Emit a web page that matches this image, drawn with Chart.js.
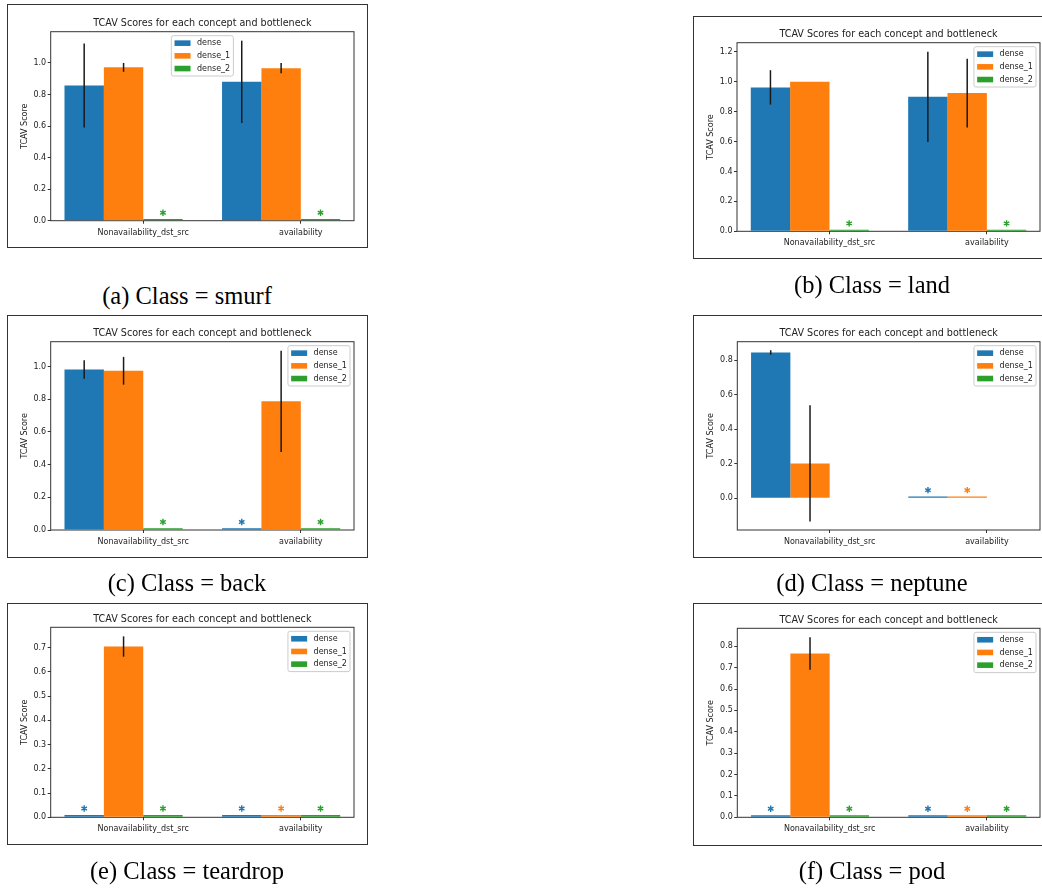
<!DOCTYPE html>
<html>
<head>
<meta charset="utf-8">
<script src="https://cdn.jsdelivr.net/npm/chart.js@4.4.1/dist/chart.umd.min.js"></script>
<style>
  html, body { margin: 0; padding: 0; background: #fff; width: 1042px; height: 888px; overflow: hidden; position: relative; }
  canvas.panel { position: absolute; }
  .frame { position: absolute; box-sizing: border-box; border: 1.3px solid #333; pointer-events: none; }
  .caption { position: absolute; font-family: "Liberation Serif", "Times New Roman", serif; font-size: 24.5px; line-height: 1;
             white-space: nowrap; transform: translate(-50%, -50%); color: #000; }
</style>
</head>
<body>
<script>
// ---- data -------------------------------------------------------------
const concepts = ['Nonavailability_dst_src', 'availability'];
const bottlenecks = ['dense', 'dense_1', 'dense_2'];

// rows: dense, dense_1, dense_2 ; columns: concepts
const smurfScores = [[0.857, 0.880], [0.972, 0.967], [0.01, 0.01]];
const smurfErrors = [[0.266, 0.261], [0.028, 0.032], [0, 0]];
const smurfStars  = [[0, 0], [0, 0], [1, 1]];
const smurfTicks  = [0.0, 0.2, 0.4, 0.6, 0.8, 1.0];

const landScores = [[0.963, 0.900], [1.000, 0.925], [0.01, 0.01]];
const landErrors = [[0.115, 0.302], [0, 0.230], [0, 0]];
const landStars  = [[0, 0], [0, 0], [1, 1]];
const landTicks  = [0.0, 0.2, 0.4, 0.6, 0.8, 1.0, 1.2];

const backScores = [[0.982, 0.01], [0.974, 0.787], [0.01, 0.01]];
const backErrors = [[0.057, 0], [0.085, 0.310], [0, 0]];
const backStars  = [[0, 1], [0, 0], [1, 1]];
const backTicks  = [0.0, 0.2, 0.4, 0.6, 0.8, 1.0];

const neptuneScores = [[0.844, 0.01], [0.202, 0.01], [null, null]];
const neptuneErrors = [[0.013, 0], [0.336, 0], [0, 0]];
const neptuneStars  = [[0, 1], [0, 1], [0, 0]];
const neptuneTicks  = [0.0, 0.2, 0.4, 0.6, 0.8];

const teardropScores = [[0.01, 0.01], [0.705, 0.01], [0.01, 0.01]];
const teardropErrors = [[0, 0], [0.042, 0], [0, 0]];
const teardropStars  = [[1, 1], [0, 1], [1, 1]];
const teardropTicks  = [0.0, 0.1, 0.2, 0.3, 0.4, 0.5, 0.6, 0.7];

const podScores = [[0.01, 0.01], [0.766, 0.01], [0.01, 0.01]];
const podErrors = [[0, 0], [0.076, 0], [0, 0]];
const podStars  = [[1, 1], [0, 1], [1, 1]];
const podTicks  = [0.0, 0.1, 0.2, 0.3, 0.4, 0.5, 0.6, 0.7, 0.8];

// ---- style ------------------------------------------------------------
const barColors = ['#1f77b4', '#ff7f0e', '#2ca02c'];
const BAR_W = 0.25;               // bar width, in units of concept spacing
const FONT = 'DejaVu Sans';
const INK = '#222';
const SPINE = '#333';
const Y_AXIS_W = 40, X_AXIS_H = 25, TITLE_GAP = 8;

const panels = [
  { caption: '(a) Class = smurf', scores: smurfScores, errors: smurfErrors, stars: smurfStars, ticks: smurfTicks, legend: 'center',
    frame: { x: 7, y: 4, w: 361, h: 244 }, plot: { l: 50.7, t: 31.7, r: 354, b: 220.7 }, cap: { x: 187, y: 296.3 } },
  { caption: '(b) Class = land', scores: landScores, errors: landErrors, stars: landStars, ticks: landTicks, legend: 'right',
    frame: { x: 693, y: 16, w: 361, h: 243 }, plot: { l: 737, t: 42.7, r: 1040, b: 231.3 }, cap: { x: 872, y: 285 } },
  { caption: '(c) Class = back', scores: backScores, errors: backErrors, stars: backStars, ticks: backTicks, legend: 'right',
    frame: { x: 7, y: 315, w: 361, h: 243 }, plot: { l: 50.7, t: 341.7, r: 354, b: 530 }, cap: { x: 187, y: 583 } },
  { caption: '(d) Class = neptune', scores: neptuneScores, errors: neptuneErrors, stars: neptuneStars, ticks: neptuneTicks, legend: 'right',
    frame: { x: 693, y: 315, w: 361, h: 243 }, plot: { l: 737.3, t: 341.7, r: 1040, b: 530 }, cap: { x: 872, y: 583 } },
  { caption: '(e) Class = teardrop', scores: teardropScores, errors: teardropErrors, stars: teardropStars, ticks: teardropTicks, legend: 'right',
    frame: { x: 7, y: 603, w: 361, h: 242 }, plot: { l: 50.7, t: 627.3, r: 354, b: 817.3 }, cap: { x: 187, y: 871 } },
  { caption: '(f) Class = pod', scores: podScores, errors: podErrors, stars: podStars, ticks: podTicks, legend: 'right',
    frame: { x: 693, y: 603, w: 361, h: 243 }, plot: { l: 737.3, t: 628.3, r: 1040, b: 817.3 }, cap: { x: 872, y: 871 } },
];

// ---- plugins ----------------------------------------------------------
// full box of spines around the plotting area (bars sit on top of it)
const spinePlugin = {
  id: 'spines',
  beforeDatasetsDraw(chart) {
    const { ctx, chartArea: a } = chart;
    ctx.save();
    ctx.strokeStyle = SPINE;
    ctx.lineWidth = 1;
    ctx.strokeRect(a.left, a.top, a.right - a.left, a.bottom - a.top);
    ctx.restore();
  }
};

// symmetric error bars and "*" marks for the non-significant scores
const errorPlugin = {
  id: 'errorMarks',
  afterDatasetsDraw(chart) {
    const { ctx } = chart;
    const ys = chart.scales.y;
    ctx.save();
    chart.data.datasets.forEach((ds, k) => {
      const meta = chart.getDatasetMeta(k);
      meta.data.forEach((el, j) => {
        const v = ds.data[j].y;
        if (v == null) return;
        const e = ds.errors[j];
        if (e > 0) {
          ctx.beginPath();
          ctx.strokeStyle = '#1a1a1a';
          ctx.lineWidth = 1.5;
          ctx.moveTo(el.x, ys.getPixelForValue(v - e));
          ctx.lineTo(el.x, ys.getPixelForValue(v + e));
          ctx.stroke();
        }
        if (ds.stars[j]) {
          const cx = el.x, cy = ys.getPixelForValue(v) - 6.4, r = 3.2;
          ctx.beginPath();
          ctx.strokeStyle = ds.backgroundColor;
          ctx.lineWidth = 1.4;
          for (let s = 0; s < 3; s++) {
            const ang = Math.PI / 2 + s * Math.PI / 3;
            ctx.moveTo(cx + r * Math.cos(ang), cy - r * Math.sin(ang));
            ctx.lineTo(cx - r * Math.cos(ang), cy + r * Math.sin(ang));
          }
          ctx.stroke();
        }
      });
    });
    ctx.restore();
  }
};

// legend box inside the axes
const boxLegendPlugin = {
  id: 'boxLegend',
  afterDraw(chart, args, opts) {
    const { ctx, chartArea: a } = chart;
    const fs = 8, pad = 3.2, handle = 16, gap = 6.4, rowH = 12.7, inset = 4;
    ctx.save();
    ctx.font = fs + 'px "' + FONT + '"';
    const labels = chart.data.datasets.map(d => d.label);
    const tw = Math.max(...labels.map(t => ctx.measureText(t).width));
    const w = pad + handle + gap + tw + pad;
    const h = labels.length * rowH + 2.2;
    const x0 = opts.align === 'center' ? (a.left + a.right) / 2 - w / 2 : a.right - inset - w;
    const y0 = a.top + inset;
    ctx.beginPath();
    ctx.roundRect(x0, y0, w, h, 2);
    ctx.fillStyle = 'rgba(255,255,255,0.8)';
    ctx.fill();
    ctx.strokeStyle = '#cccccc';
    ctx.lineWidth = 1;
    ctx.stroke();
    ctx.textBaseline = 'middle';
    ctx.textAlign = 'left';
    chart.data.datasets.forEach((d, i) => {
      const cy = y0 + 1.1 + rowH * (i + 0.5);
      ctx.fillStyle = d.backgroundColor;
      ctx.fillRect(x0 + pad, cy - 2.8, handle, 5.6);
      ctx.fillStyle = INK;
      ctx.fillText(d.label, x0 + pad + handle + gap, cy);
    });
    ctx.restore();
  }
};

// ---- build ------------------------------------------------------------
function valueLimits(scores, errors) {
  let lo = 0, hi = 0;
  scores.forEach((row, k) => row.forEach((v, j) => {
    if (v == null) return;
    lo = Math.min(lo, v - errors[k][j]);
    hi = Math.max(hi, v + errors[k][j]);
  }));
  const m = 0.05 * (hi - lo);
  return { min: lo < 0 ? lo - m : 0, max: hi + m };
}

function indexLimits() {
  const lo = -1.5 * BAR_W, hi = concepts.length - 1 + 1.5 * BAR_W;
  const m = 0.05 * (hi - lo);
  return { min: lo - m, max: hi + m };
}

panels.forEach(p => {
  const f = p.frame;
  const canvas = document.createElement('canvas');
  canvas.className = 'panel';
  canvas.width = f.w; canvas.height = f.h;
  canvas.style.left = f.x + 'px'; canvas.style.top = f.y + 'px';
  canvas.style.width = f.w + 'px'; canvas.style.height = f.h + 'px';
  document.body.appendChild(canvas);

  const frame = document.createElement('div');
  frame.className = 'frame';
  Object.assign(frame.style, { left: f.x + 'px', top: f.y + 'px', width: f.w + 'px', height: f.h + 'px' });
  document.body.appendChild(frame);

  const cap = document.createElement('div');
  cap.className = 'caption';
  cap.textContent = p.caption;
  cap.style.left = p.cap.x + 'px'; cap.style.top = p.cap.y + 'px';
  document.body.appendChild(cap);

  const plotTop = p.plot.t - f.y;
  const titleLH = 9.6 * 1.2;
  const titlePadTop = plotTop - TITLE_GAP - titleLH / 2;
  const titlePadBottom = plotTop - titlePadTop - titleLH;
  const yl = valueLimits(p.scores, p.errors);
  const xl = indexLimits();

  new Chart(canvas, {
    type: 'bar',
    data: {
      datasets: bottlenecks.map((name, k) => ({
        label: name,
        data: p.scores[k].map((v, j) => ({ x: j, y: v })),
        errors: p.errors[k],
        stars: p.stars[k],
        backgroundColor: barColors[k],
        borderWidth: 0,
        categoryPercentage: bottlenecks.length * BAR_W,
        barPercentage: 1
      }))
    },
    options: {
      responsive: false,
      animation: false,
      devicePixelRatio: 1,
      layout: {
        padding: {
          left: p.plot.l - f.x - Y_AXIS_W,
          right: f.w - (p.plot.r - f.x),
          top: 0,
          bottom: f.h - (p.plot.b - f.y) - X_AXIS_H
        }
      },
      plugins: {
        legend: { display: false },
        tooltip: { enabled: false },
        title: {
          display: true,
          fullSize: false,
          text: 'TCAV Scores for each concept and bottleneck',
          color: INK,
          font: { family: FONT, size: 9.6, weight: 'normal', lineHeight: 1.2 },
          padding: { top: titlePadTop, bottom: titlePadBottom }
        },
        boxLegend: { align: p.legend }
      },
      scales: {
        x: {
          type: 'linear',
          min: xl.min, max: xl.max,
          offset: false,
          grid: { display: true, drawOnChartArea: false, drawTicks: true, tickLength: 3, color: SPINE, offset: false },
          border: { display: false },
          ticks: {
            color: INK, font: { family: FONT, size: 8 }, padding: 4, maxRotation: 0, autoSkip: false,
            callback: (v, i) => concepts[i]
          },
          afterBuildTicks: axis => { axis.ticks = concepts.map((c, i) => ({ value: i + BAR_W / 2 })); },
          afterFit: axis => { axis.height = X_AXIS_H; }
        },
        y: {
          type: 'linear',
          min: yl.min, max: yl.max,
          grid: { display: true, drawOnChartArea: false, drawTicks: true, tickLength: 3, color: SPINE },
          border: { display: false },
          ticks: { color: INK, font: { family: FONT, size: 8 }, padding: 1.5, callback: v => v.toFixed(1) },
          title: { display: true, text: 'TCAV Score', color: INK, font: { family: FONT, size: 8, lineHeight: 1.2 }, padding: { top: 9, bottom: 0 } },
          afterBuildTicks: axis => { axis.ticks = p.ticks.map(v => ({ value: v })); },
          afterFit: axis => { axis.width = Y_AXIS_W; }
        }
      }
    },
    plugins: [spinePlugin, errorPlugin, boxLegendPlugin]
  });
});
</script>
</body>
</html>
